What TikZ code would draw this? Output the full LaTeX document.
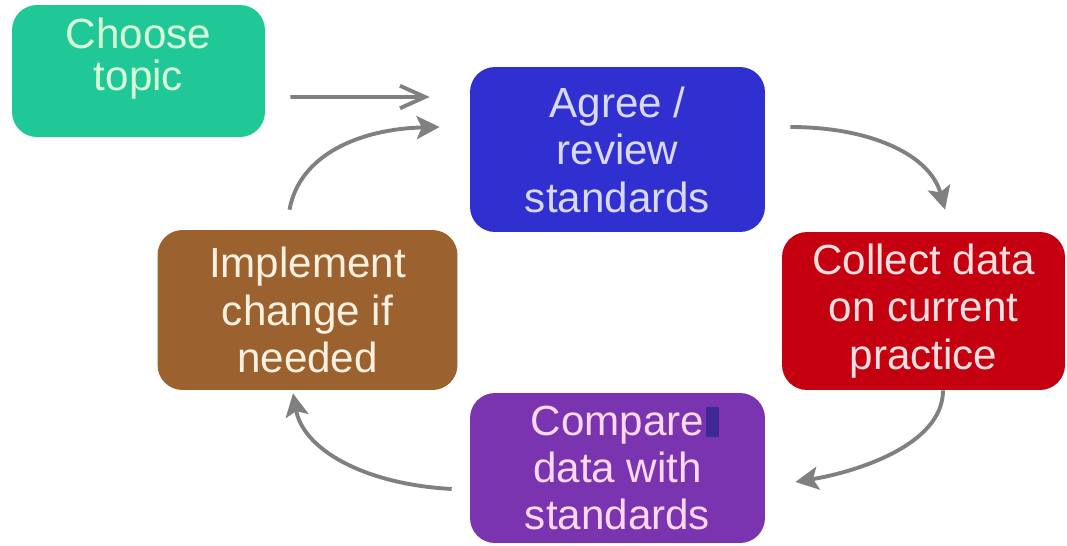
\documentclass[tikz,border=0pt]{standalone}
\usepackage{fontspec}
\setmainfont{Liberation Sans}
\usetikzlibrary{arrows.meta}
\definecolor{topicgreen}{RGB}{32,200,152}
\definecolor{agreeblue}{RGB}{48,48,208}
\definecolor{collectred}{RGB}{196,0,16}
\definecolor{comparepurple}{RGB}{122,52,176}
\definecolor{changebrown}{RGB}{155,98,48}
\definecolor{cursorblue}{RGB}{62,40,150}
\definecolor{arrowgrey}{RGB}{128,128,128}

\begin{document}
\begin{tikzpicture}[x=0.02cm, y=-0.02cm,
  stage/.style={rounded corners=0.5cm, align=center, inner sep=0pt,
    font=\fontsize{24}{27}\selectfont},
  cycle/.style={draw=arrowgrey, line width=2.2pt,
    -{Stealth[length=0.46cm,width=0.46cm,inset=0.1cm]}}]
\fill[white] (0,0) rectangle (1067,545);
\useasboundingbox (0,0) rectangle (1067,545);
\node[stage, fill=topicgreen, text=white!85!green, minimum width=5.06cm, minimum height=2.64cm] (choose) at (138.5,71) {\raisebox{0.22cm}[\height][\depth]{\begin{tabular}{@{}c@{}}Choose\\[-0.1cm]topic\end{tabular}}};
\node[stage, fill=agreeblue, text=white!85!blue, minimum width=5.9cm, minimum height=3.3cm] (agree) at (617.5,149.5) {Agree /\\review\\standards};
\node[stage, fill=collectred, text=white!88!red, minimum width=5.66cm, minimum height=3.16cm] (collect) at (923.5,311) {Collect data\\on current\\practice};
\node[stage, fill=comparepurple, text=white!85!magenta, minimum width=5.9cm, minimum height=3.0cm] (compare) at (617.5,468) {Compare\\data with\\standards};
\node[stage, fill=changebrown, text=white!88!orange, minimum width=6.0cm, minimum height=3.2cm] (implement) at (307.5,310) {Implement\\change if\\needed};
\fill[cursorblue] (706,407) rectangle (719,437);
\draw[draw=arrowgrey, line width=2.2pt, -{Straight Barb[length=0.5cm,width=0.45cm]}] ([xshift=0.5cm,yshift=-0.52cm]choose.east) -- ([xshift=-0.8cm,yshift=1.05cm]agree.west);
\draw[cycle] ([xshift=0.5cm,yshift=0.45cm]agree.east) .. controls +(80,0) and +(-15,-55) .. ([xshift=0.43cm,yshift=0.44cm]collect.north);
\draw[cycle] ([xshift=0.39cm]collect.south) .. controls +(0,55) and +(60,-10) .. ([xshift=0.6cm,yshift=-0.28cm]compare.east);
\draw[cycle] ([xshift=-0.36cm,yshift=-0.42cm]compare.west) .. controls +(-90,-5) and +(10,55) .. ([xshift=-0.29cm,yshift=-0.06cm]implement.south);
\draw[cycle] ([xshift=-0.36cm,yshift=0.4cm]implement.north) .. controls +(10,-55) and +(-80,2) .. ([xshift=-0.6cm,yshift=0.45cm]agree.west);
\end{tikzpicture}
\end{document}
